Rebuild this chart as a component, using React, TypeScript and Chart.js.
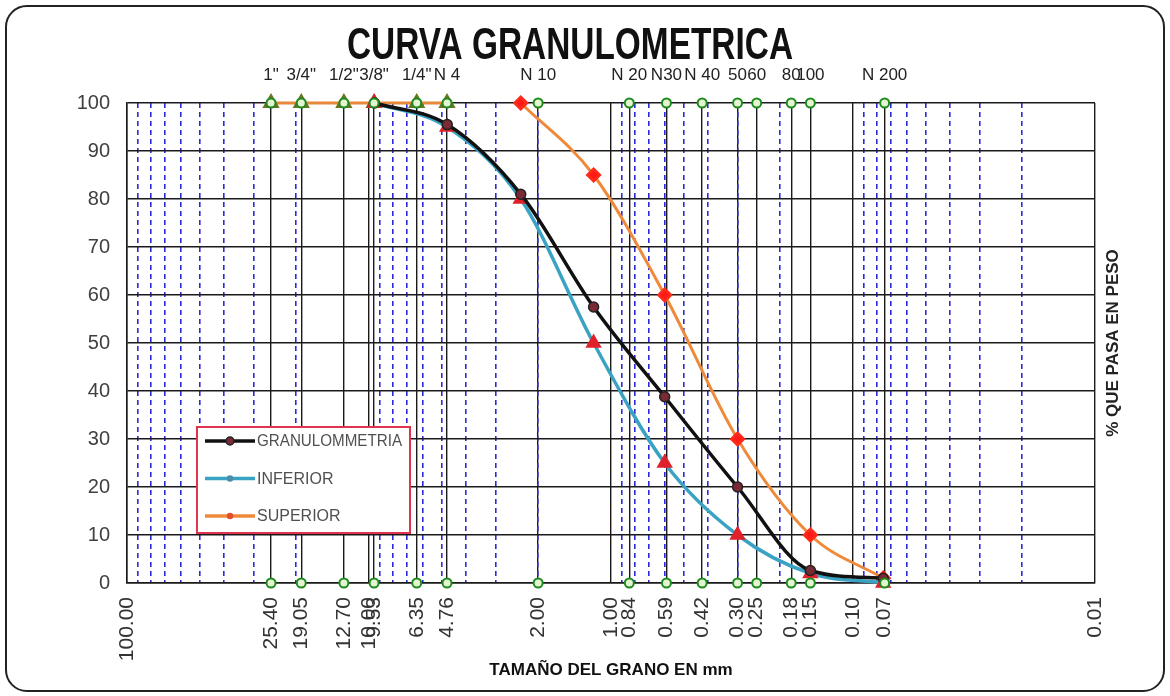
import { useEffect, useRef } from 'react';
import { Chart, registerables } from 'chart.js';

Chart.register(...registerables);

// ---- data ----
const sieveSizes = [25.4, 19.05, 12.7, 9.53, 6.35, 4.76, 2.0, 0.84, 0.59, 0.42, 0.3, 0.25, 0.18, 0.15, 0.074];
const sieveNames = ['1"', '3/4"', '1/2"', '3/8"', '1/4"', 'N 4', 'N 10', 'N 20', 'N30', 'N 40', '50', '60', '80', '100', 'N 200'];
const axisTickValues = [100, 25.4, 19.05, 12.7, 10, 9.53, 6.35, 4.76, 2.0, 1.0, 0.84, 0.59, 0.42, 0.3, 0.25, 0.18, 0.15, 0.1, 0.074, 0.01];
const axisTickLabels = ['100.00', '25.40', '19.05', '12.70', '10.00', '9.53', '6.35', '4.76', '2.00', '1.00', '0.84', '0.59', '0.42', '0.30', '0.25', '0.18', '0.15', '0.10', '0.07', '0.01'];
const minorGridValues = [
  90, 80, 70, 60, 50, 40, 30, 20,
  9, 8, 7, 6, 5, 4, 3, 2,
  0.9, 0.8, 0.7, 0.6, 0.5, 0.4, 0.3, 0.2,
  0.09, 0.08, 0.07, 0.06, 0.05, 0.04, 0.03, 0.02,
];
const curveSizes = [9.5, 4.75, 2.36, 1.18, 0.6, 0.3, 0.15, 0.075];
const granulometria = [100, 95.5, 81, 57.5, 38.8, 20, 2.6, 1];
const inferior = [100, 95, 80, 50, 25, 10, 2, 0];
const superior = [null, null, 100, 85, 60, 30, 10, 1];
const topSieves = [25.4, 19.05, 12.7, 9.53, 6.35, 4.76];
const topValues = [100, 100, 100, 100, 100, 100];

const FONT = '"Liberation Sans", Arial, sans-serif';

const pairs = (xs: number[], ys: (number | null)[]) =>
  xs.map((x, i) => ({ x, y: ys[i] })).filter((p) => p.y !== null) as { x: number; y: number }[];

const decorPlugin = {
  id: 'decor',
  afterDatasetsDraw(chart: any) {
    const { ctx, chartArea } = chart;
    const { left, top, right, bottom } = chartArea;
    ctx.save();
    // legend box
    const bx = left + 70;
    const by = top + 324;
    const bw = 213;
    const bh = 106;
    ctx.fillStyle = '#ffffff';
    ctx.fillRect(bx, by, bw, bh);
    ctx.strokeStyle = '#e0344e';
    ctx.lineWidth = 2;
    ctx.strokeRect(bx, by, bw, bh);
    const items = [
      { label: 'GRANULOMMETRIA', color: '#111111', marker: '#7a2a35', mb: '#222' },
      { label: 'INFERIOR', color: '#3aa3c4', marker: '#4a8fa8', mb: '#4a8fa8' },
      { label: 'SUPERIOR', color: '#ee8a3a', marker: '#e0502a', mb: '#e0502a' },
    ];
    items.forEach((it, i) => {
      const cy = by + 14 + i * 37.5;
      ctx.strokeStyle = it.color;
      ctx.lineWidth = 3.5;
      ctx.beginPath();
      ctx.moveTo(bx + 8, cy);
      ctx.lineTo(bx + 58, cy);
      ctx.stroke();
      ctx.fillStyle = it.marker;
      ctx.strokeStyle = it.mb;
      ctx.lineWidth = 1.5;
      ctx.beginPath();
      ctx.arc(bx + 33, cy, i === 0 ? 4 : 2.5, 0, Math.PI * 2);
      ctx.fill();
      ctx.stroke();
      ctx.fillStyle = '#505050';
      ctx.font = `16px ${FONT}`;
      ctx.textAlign = 'left';
      ctx.textBaseline = 'middle';
      ctx.fillText(it.label, bx + 60, cy + 1, 145);
    });
    // main title
    ctx.fillStyle = '#111111';
    ctx.font = `bold 44px ${FONT}`;
    ctx.textAlign = 'center';
    ctx.textBaseline = 'alphabetic';
    ctx.fillText('CURVA GRANULOMETRICA', left + 443, 59, 446);
    // right-side axis title
    ctx.translate(right + 18, (top + bottom) / 2);
    ctx.rotate(-Math.PI / 2);
    ctx.font = `bold 17px ${FONT}`;
    ctx.fillStyle = '#222222';
    ctx.textBaseline = 'middle';
    ctx.fillText('% QUE PASA EN PESO', 0, 0);
    ctx.restore();
  },
};

export default function App() {
  const ref = useRef<HTMLCanvasElement>(null);
  useEffect(() => {
    if (!ref.current) return;
    Chart.defaults.font.family = FONT;
    const chart = new Chart(ref.current, {
      type: 'line',
      data: {
        datasets: [
          {
            label: 'TAMICES',
            data: sieveSizes.flatMap((s) => [{ x: s, y: 0 }, { x: s, y: 100 }]),
            showLine: false,
            pointStyle: 'circle',
            pointRadius: 4.5,
            pointBorderColor: '#1f8a1f',
            pointBackgroundColor: '#e4f4d0',
            pointBorderWidth: 2,
            clip: false,
            order: 0,
          },
          {
            label: 'GRANULOMMETRIA',
            data: pairs(curveSizes, granulometria),
            borderColor: '#111111',
            borderWidth: 3.5,
            pointStyle: 'circle',
            pointRadius: 5,
            pointBackgroundColor: '#7a2a35',
            pointBorderColor: '#222222',
            pointBorderWidth: 1.5,
            cubicInterpolationMode: 'monotone',
            clip: false,
            order: 1,
          },
          {
            label: 'INFERIOR',
            data: pairs(curveSizes, inferior),
            borderColor: '#3aa3c4',
            borderWidth: 3.5,
            pointStyle: 'triangle',
            pointRadius: 6,
            pointBackgroundColor: '#e0202a',
            pointBorderColor: '#e0202a',
            cubicInterpolationMode: 'monotone',
            clip: false,
            order: 2,
          },
          {
            label: 'SUPERIOR',
            data: pairs(curveSizes, superior),
            borderColor: '#ee8a3a',
            borderWidth: 3,
            pointStyle: 'rectRot',
            pointRadius: 6,
            pointBackgroundColor: '#ff1a1a',
            pointBorderColor: '#ff2a1a',
            cubicInterpolationMode: 'monotone',
            clip: false,
            order: 3,
          },
          {
            label: 'TOPE',
            data: pairs(topSieves, topValues),
            borderColor: '#e8883a',
            borderWidth: 3,
            pointStyle: 'triangle',
            pointRadius: 7,
            pointBackgroundColor: '#7d8a2a',
            pointBorderColor: '#6a7420',
            clip: false,
            order: 5,
          },
        ],
      },
      options: {
        responsive: false,
        animation: false,
        layout: { padding: { left: 0, right: 75, top: 0, bottom: 0 } },
        plugins: {
          legend: { display: false },
          tooltip: { enabled: false },
          title: { display: false },
        },
        scales: {
          x: {
            type: 'logarithmic',
            position: 'bottom',
            reverse: true,
            min: 0.01,
            max: 100,
            afterBuildTicks: (s: any) => {
              s.ticks = axisTickValues.map((v) => ({ value: v }));
            },
            afterFit: (s: any) => {
              s.height = 113;
              s.paddingLeft = 0;
              s.paddingRight = 0;
            },
            ticks: {
              autoSkip: false,
              minRotation: 90,
              maxRotation: 90,
              padding: 14,
              color: '#333333',
              font: { size: 21 },
              callback: (_v: any, i: number) => axisTickLabels[i],
            },
            grid: { color: '#1a1a1a', lineWidth: 1.4, drawTicks: false },
            border: { display: true, color: '#1a1a1a', width: 1.5 },
            title: {
              display: true,
              text: 'TAMAÑO DEL GRANO EN mm',
              color: '#111111',
              font: { size: 17, weight: 'bold' },
              padding: { top: 0, bottom: 15 },
            },
          },
          xTop: {
            type: 'logarithmic',
            position: 'top',
            reverse: true,
            min: 0.01,
            max: 100,
            afterBuildTicks: (s: any) => {
              s.ticks = sieveSizes.map((v) => ({ value: v }));
            },
            afterFit: (s: any) => {
              s.height = 103;
              s.paddingLeft = 0;
              s.paddingRight = 0;
            },
            ticks: {
              autoSkip: false,
              minRotation: 0,
              maxRotation: 0,
              padding: 17,
              color: '#222222',
              font: { size: 17 },
              callback: (_v: any, i: number) => sieveNames[i],
            },
            grid: { drawOnChartArea: false, drawTicks: false },
            border: { display: false },
          },
          xMinor: {
            type: 'logarithmic',
            position: 'top',
            reverse: true,
            min: 0.01,
            max: 100,
            afterBuildTicks: (s: any) => {
              s.ticks = minorGridValues.map((v) => ({ value: v }));
            },
            afterFit: (s: any) => {
              s.height = 0;
              s.paddingLeft = 0;
              s.paddingRight = 0;
            },
            ticks: { display: false, autoSkip: false },
            grid: { color: '#2a2ad8', lineWidth: 1.6, drawTicks: false },
            border: { display: false, dash: [5, 4] },
          },
          y: {
            type: 'linear',
            min: 0,
            max: 100,
            afterFit: (s: any) => {
              s.width = 127;
              s.paddingTop = 0;
              s.paddingBottom = 0;
            },
            ticks: {
              stepSize: 10,
              padding: 17,
              color: '#404040',
              font: { size: 20 },
            },
            grid: { color: '#1a1a1a', lineWidth: 1.5, drawTicks: false },
            border: { display: true, color: '#1a1a1a', width: 1.5 },
          },
        },
      } as any,
      plugins: [decorPlugin],
    });
    return () => chart.destroy();
  }, []);

  return (
    <div style={{ position: 'absolute', left: 0, top: 0, width: 1170, height: 696, background: '#ffffff' }}>
      <canvas ref={ref} width={1170} height={696} style={{ display: 'block' }} />
      <div
        style={{
          position: 'absolute',
          left: 5,
          top: 5,
          width: 1160,
          height: 687,
          boxSizing: 'border-box',
          border: '2.5px solid #222',
          borderRadius: 22,
          pointerEvents: 'none',
        }}
      />
    </div>
  );
}
